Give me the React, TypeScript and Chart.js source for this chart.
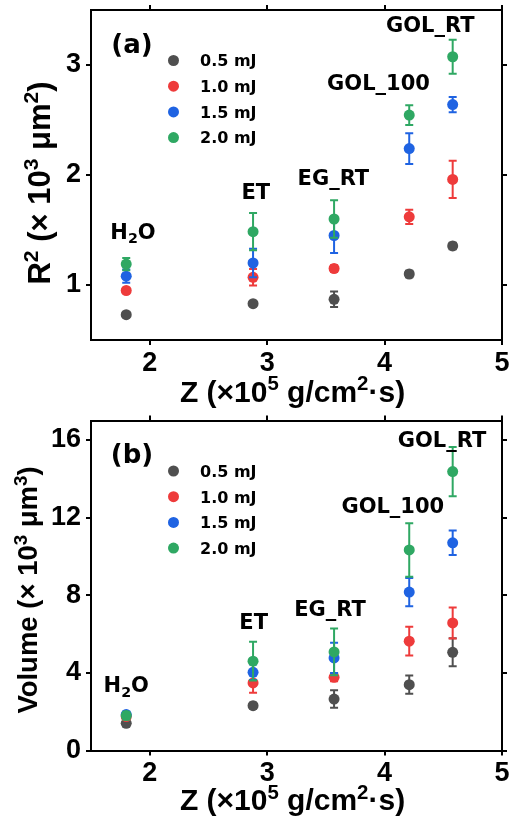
import React, { useEffect, useRef } from "react";
import { Chart, registerables } from "chart.js";

Chart.register(...registerables);

// ---------------- data ----------------
const Z_VALUES = [1.8, 2.88, 3.57, 4.21, 4.58];
const LIQUID_LABELS = ["H2O", "ET", "EG_RT", "GOL_100", "GOL_RT"];
const ENERGY_LABELS = ["0.5 mJ", "1.0 mJ", "1.5 mJ", "2.0 mJ"];
const Z_TICKS = [2, 3, 4, 5];
const R2_TICKS = [1, 2, 3];
const VOL_TICKS = [0, 4, 8, 12, 16];

// (a) R^2 (x10^3 um^2)
const R2_05 = [0.73, 0.83, 0.87, 1.1, 1.355];
const R2_10 = [0.95, 1.07, 1.15, 1.62, 1.96];
const R2_15 = [1.08, 1.2, 1.45, 2.24, 2.64];
const R2_20 = [1.19, 1.485, 1.6, 2.545, 3.075];
const R2_ERR_05 = [0.02, 0.02, 0.07, 0.03, 0.03];
const R2_ERR_10 = [0.02, 0.075, 0.03, 0.065, 0.17];
const R2_ERR_15 = [0.06, 0.13, 0.16, 0.14, 0.07];
const R2_ERR_20 = [0.055, 0.17, 0.17, 0.09, 0.155];

// (b) Volume (x10^3 um^3)
const VOL_05 = [1.4, 2.31, 2.65, 3.39, 5.06];
const VOL_10 = [1.75, 3.48, 3.77, 5.63, 6.57];
const VOL_15 = [1.85, 4.03, 4.77, 8.16, 10.7];
const VOL_20 = [1.8, 4.6, 5.08, 10.33, 14.37];
const VOL_ERR_05 = [0.15, 0.15, 0.45, 0.47, 0.72];
const VOL_ERR_10 = [0.15, 0.5, 0.2, 0.74, 0.8];
const VOL_ERR_15 = [0.15, 0.4, 0.78, 0.73, 0.63];
const VOL_ERR_20 = [0.2, 1.0, 1.2, 1.38, 1.27];

// ---------------- styles ----------------
const SERIES_COLORS = ["#4f4f4f", "#ee3b3b", "#1f63e2", "#2fa863"];
const FONT_AXIS = '"Liberation Sans", Arial, sans-serif';
const FONT_NOTE = '"DejaVu Sans", Verdana, sans-serif';

// label anchors (data coordinates) for the liquid names
const LABEL_ANCHORS_A = [
  { x: 1.858, y: 1.49 },
  { x: 2.903, y: 1.85 },
  { x: 3.564, y: 1.977 },
  { x: 3.948, y: 2.839 },
  { x: 4.389, y: 3.37 },
];
const LABEL_ANCHORS_B = [
  { x: 1.8, y: 3.39 },
  { x: 2.885, y: 6.64 },
  { x: 3.536, y: 7.34 },
  { x: 4.07, y: 12.61 },
  { x: 4.489, y: 16.04 },
];

type Part = { t: string; k?: "sup" | "sub" };

function partFont(size: number, k: Part["k"], family: string) {
  const s = k ? size * 0.68 : size;
  return `bold ${s}px ${family}`;
}

function richWidth(ctx: CanvasRenderingContext2D, parts: Part[], size: number, family: string) {
  let w = 0;
  for (const p of parts) {
    ctx.font = partFont(size, p.k, family);
    w += ctx.measureText(p.t).width;
  }
  return w;
}

function drawRich(
  ctx: CanvasRenderingContext2D,
  parts: Part[],
  x: number,
  baseline: number,
  size: number,
  family: string,
  align: "center" | "left"
) {
  const w = richWidth(ctx, parts, size, family);
  let cx = align === "center" ? x - w / 2 : x;
  ctx.textAlign = "left";
  ctx.textBaseline = "alphabetic";
  for (const p of parts) {
    ctx.font = partFont(size, p.k, family);
    const dy = p.k === "sup" ? -size * 0.38 : p.k === "sub" ? size * 0.22 : 0;
    ctx.fillText(p.t, cx, baseline + dy);
    cx += ctx.measureText(p.t).width;
  }
}

function labelParts(label: string): Part[] {
  if (label === "H2O") return [{ t: "H" }, { t: "2", k: "sub" }, { t: "O" }];
  return [{ t: label }];
}

const X_TITLE: Part[] = [
  { t: "Z (×10" },
  { t: "5", k: "sup" },
  { t: " g/cm" },
  { t: "2", k: "sup" },
  { t: "·s)" },
];
const Y_TITLE_A: Part[] = [
  { t: "R" },
  { t: "2", k: "sup" },
  { t: " (× 10" },
  { t: "3", k: "sup" },
  { t: " μm" },
  { t: "2", k: "sup" },
  { t: ")" },
];
const Y_TITLE_B: Part[] = [
  { t: "Volume (× 10" },
  { t: "3", k: "sup" },
  { t: " μm" },
  { t: "3", k: "sup" },
  { t: ")" },
];

interface PanelSpec {
  canvasHeight: number;
  areaTop: number;
  areaBottom: number;
  tag: string;
  series: number[][];
  errors: number[][];
  yMin: number;
  yMax: number;
  yTicks: number[];
  yTitle: Part[];
  yTitleSize: number;
  yTitleBaseX: number;
  yTitleCenterY: number;
  xTitleBaseline: number;
  anchors: { x: number; y: number }[];
}

const AREA_LEFT = 91;
const AREA_RIGHT = 502;
const CANVAS_W = 515;

const PANEL_A: PanelSpec = {
  canvasHeight: 410,
  areaTop: 10,
  areaBottom: 340,
  tag: "(a)",
  series: [R2_05, R2_10, R2_15, R2_20],
  errors: [R2_ERR_05, R2_ERR_10, R2_ERR_15, R2_ERR_20],
  yMin: 0.5,
  yMax: 3.5,
  yTicks: R2_TICKS,
  yTitle: Y_TITLE_A,
  yTitleSize: 31,
  yTitleBaseX: 50,
  yTitleCenterY: 183,
  xTitleBaseline: 401.5,
  anchors: LABEL_ANCHORS_A,
};

const PANEL_B: PanelSpec = {
  canvasHeight: 408,
  areaTop: 10.5,
  areaBottom: 340.5,
  tag: "(b)",
  series: [VOL_05, VOL_10, VOL_15, VOL_20],
  errors: [VOL_ERR_05, VOL_ERR_10, VOL_ERR_15, VOL_ERR_20],
  yMin: 0,
  yMax: 17,
  yTicks: VOL_TICKS,
  yTitle: Y_TITLE_B,
  yTitleSize: 27.5,
  yTitleBaseX: 37,
  yTitleCenterY: 180,
  xTitleBaseline: 400,
  anchors: LABEL_ANCHORS_B,
};

function zeroPad(s: any) {
  s.paddingTop = 0;
  s.paddingBottom = 0;
  s.paddingLeft = 0;
  s.paddingRight = 0;
}

function buildConfig(spec: PanelSpec): any {
  const tickFont = { family: FONT_AXIS, size: 27, weight: "bold" as const };
  const grid = {
    display: true,
    drawOnChartArea: false,
    drawTicks: true,
    tickLength: 5,
    color: "#000",
    lineWidth: 2,
  };
  const border = { display: true, color: "#000", width: 2 };

  const xTicks = (s: any) => {
    s.ticks = Z_TICKS.map((v) => ({ value: v }));
  };
  const yTicks = (s: any) => {
    s.ticks = spec.yTicks.map((v) => ({ value: v }));
  };

  const overlay = {
    id: "overlay",
    beforeDatasetDraw(chart: any, args: any) {
      const i = args.index;
      const xs = chart.scales.x;
      const ys = chart.scales.y;
      const ctx: CanvasRenderingContext2D = chart.ctx;
      ctx.save();
      ctx.strokeStyle = SERIES_COLORS[i];
      ctx.lineWidth = 2;
      spec.series[i].forEach((v, j) => {
        const e = spec.errors[i][j];
        const px = xs.getPixelForValue(Z_VALUES[j]);
        const top = ys.getPixelForValue(v + e);
        const bot = ys.getPixelForValue(v - e);
        ctx.beginPath();
        ctx.moveTo(px, top);
        ctx.lineTo(px, bot);
        ctx.moveTo(px - 4, top);
        ctx.lineTo(px + 4, top);
        ctx.moveTo(px - 4, bot);
        ctx.lineTo(px + 4, bot);
        ctx.stroke();
      });
      ctx.restore();
    },
    afterDraw(chart: any) {
      const ctx: CanvasRenderingContext2D = chart.ctx;
      const area = chart.chartArea;
      const xs = chart.scales.x;
      const ys = chart.scales.y;
      ctx.save();
      ctx.fillStyle = "#000";

      // x title
      drawRich(ctx, X_TITLE, 292.5, spec.xTitleBaseline, 30, FONT_AXIS, "center");

      // y title (rotated)
      ctx.save();
      ctx.translate(spec.yTitleBaseX, spec.yTitleCenterY);
      ctx.rotate(-Math.PI / 2);
      drawRich(ctx, spec.yTitle, 0, 0, spec.yTitleSize, FONT_AXIS, "center");
      ctx.restore();

      // panel tag
      ctx.font = `bold 26px ${FONT_NOTE}`;
      ctx.textAlign = "center";
      ctx.textBaseline = "middle";
      ctx.fillText(spec.tag, area.left + 41, area.top + 36);

      // legend
      ENERGY_LABELS.forEach((lab, i) => {
        const rowY = area.top + 50.5 + i * 25.7;
        ctx.beginPath();
        ctx.fillStyle = SERIES_COLORS[i];
        ctx.arc(area.left + 82.5, rowY, 5.5, 0, Math.PI * 2);
        ctx.fill();
        ctx.fillStyle = "#000";
        ctx.font = `bold 16px ${FONT_NOTE}`;
        ctx.textAlign = "left";
        ctx.textBaseline = "alphabetic";
        ctx.fillText(lab, area.left + 109, rowY + 0.729 * 8);
      });

      // liquid labels
      LIQUID_LABELS.forEach((lab, j) => {
        const a = spec.anchors[j];
        const px = xs.getPixelForValue(a.x);
        const py = ys.getPixelForValue(a.y);
        drawRich(ctx, labelParts(lab), px, py + 0.729 * 10.5, 21, FONT_NOTE, "center");
      });
      ctx.restore();
    },
  };

  return {
    type: "scatter",
    data: {
      datasets: spec.series.map((vals, i) => ({
        label: ENERGY_LABELS[i],
        data: vals.map((v, j) => ({ x: Z_VALUES[j], y: v })),
        backgroundColor: SERIES_COLORS[i],
        borderColor: SERIES_COLORS[i],
        pointRadius: 5.5,
        pointBorderWidth: 0,
        order: 3 - i,
      })),
    },
    options: {
      responsive: false,
      animation: false,
      devicePixelRatio: 1,
      events: [],
      layout: { padding: 0, autoPadding: false },
      plugins: { legend: { display: false }, tooltip: { enabled: false } },
      scales: {
        x: {
          type: "linear",
          position: "bottom",
          min: 1.5,
          max: 5,
          afterBuildTicks: xTicks,
          afterFit: (s: any) => {
            s.height = spec.canvasHeight - spec.areaBottom;
            zeroPad(s);
          },
          ticks: { font: tickFont, color: "#000", padding: 2, maxRotation: 0 },
          grid,
          border,
        },
        x2: {
          type: "linear",
          position: "top",
          min: 1.5,
          max: 5,
          afterBuildTicks: xTicks,
          afterFit: (s: any) => {
            s.height = spec.areaTop;
            zeroPad(s);
          },
          ticks: { display: false },
          grid,
          border,
        },
        y: {
          type: "linear",
          position: "left",
          min: spec.yMin,
          max: spec.yMax,
          afterBuildTicks: yTicks,
          afterFit: (s: any) => {
            s.width = AREA_LEFT;
            zeroPad(s);
          },
          ticks: { font: tickFont, color: "#000", padding: 5 },
          grid,
          border,
        },
        y2: {
          type: "linear",
          position: "right",
          min: spec.yMin,
          max: spec.yMax,
          afterBuildTicks: yTicks,
          afterFit: (s: any) => {
            s.width = CANVAS_W - AREA_RIGHT;
            zeroPad(s);
          },
          ticks: { display: false },
          grid,
          border,
        },
      },
    },
    plugins: [overlay],
  };
}

function Panel({ spec }: { spec: PanelSpec }) {
  const ref = useRef<HTMLCanvasElement | null>(null);
  useEffect(() => {
    const chart = new Chart(ref.current as HTMLCanvasElement, buildConfig(spec));
    return () => chart.destroy();
  }, [spec]);
  return (
    <canvas
      ref={ref}
      width={CANVAS_W}
      height={spec.canvasHeight}
      style={{ display: "block", width: CANVAS_W, height: spec.canvasHeight }}
    />
  );
}

export default function App() {
  return (
    <div
      style={{
        position: "absolute",
        left: 0,
        top: 0,
        width: CANVAS_W,
        height: 818,
        background: "#fff",
      }}
    >
      <Panel spec={PANEL_A} />
      <Panel spec={PANEL_B} />
    </div>
  );
}
